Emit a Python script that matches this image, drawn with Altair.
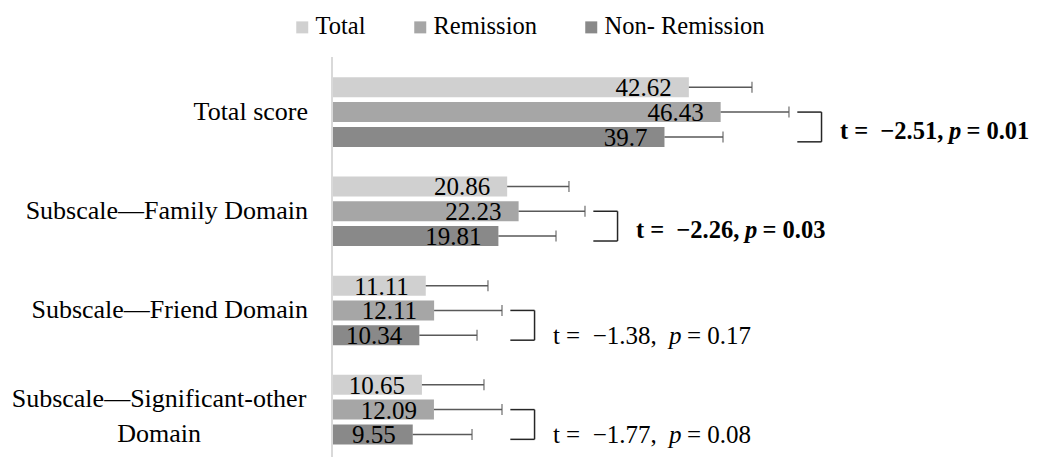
import altair as alt
import pandas as pd

# ---------------- data ----------------
groups = ["Total score", "Subscale—Family Domain", "Subscale—Friend Domain",
          "Subscale—Significant-other\nDomain"]
series = ["Total", "Remission", "Non- Remission"]
total_mean = [42.62, 20.86, 11.11, 10.65]
total_sd = [7.56, 7.40, 7.45, 7.43]
rem_mean = [46.43, 22.23, 12.11, 12.09]
rem_sd = [8.18, 7.95, 8.13, 8.15]
non_mean = [39.7, 19.81, 10.34, 9.55]
non_sd = [7.01, 6.90, 6.91, 7.10]
t_values = ["−2.51", "−2.26", "−1.38", "−1.77"]
p_values = ["0.01", "0.03", "0.17", "0.08"]
significant = [True, True, False, False]
colors = ["#d0d0d0", "#a6a6a6", "#898989"]

FONT = "Liberation Serif"

means = [total_mean, rem_mean, non_mean]
sds = [total_sd, rem_sd, non_sd]
bar_rows = []
for i, g in enumerate(groups):
    for j, s in enumerate(series):
        v = means[j][i]
        sd = sds[j][i]
        bar_rows.append({"group": g, "series": s, "row": 4 * i + j, "value": v,
                         "sd": sd, "err": v + sd, "label": str(v)})
bars_df = pd.DataFrame(bar_rows)

ann_rows = []
for i, g in enumerate(groups):
    bx = rem_mean[i] + rem_sd[i] + 1.0
    ann_rows.append({
        "group": g, "row_rem": 4 * i + 1, "row_non": 4 * i + 2,
        "row_bot": 4 * i + 2.2, "bx": bx, "bx2": bx + 2.9, "tx": bx + 2.9 + 2.2,
        "part1": "t =\u00a0\u00a0" + t_values[i] + ",", "part3": "= " + p_values[i],
        "bold": significant[i],
    })
ann_df = pd.DataFrame(ann_rows)

lab_df = pd.DataFrame({"group": groups, "row": [4 * i + 1 for i in range(len(groups))],
                       "multi": ["\n" in g for g in groups]})

xs = alt.Scale(domain=[0, 83], nice=False, zero=False)
ys = alt.Scale(domain=[-1.02, 14.71], reverse=True, nice=False, zero=False)

# axis line
axis_line = alt.Chart(lab_df).mark_rule(color="#d9d9d9", strokeWidth=2).encode(
    x=alt.value(-1), y=alt.value(0), y2=alt.value(400))

bars = alt.Chart(bars_df).mark_bar(orient="horizontal", size=20).encode(
    x=alt.X("value:Q", scale=xs, axis=None, stack=None),
    y=alt.Y("row:Q", scale=ys, axis=None),
    color=alt.Color("series:N", scale=alt.Scale(domain=series, range=colors),
                    legend=alt.Legend(
                        orient="none", legendX=-43, legendY=-42, direction="horizontal",
                        title=None, symbolType="square", symbolSize=144,
                        symbolStrokeWidth=0, labelFont=FONT, labelFontSize=24.5,
                        labelColor="#000000", columnPadding=42, labelOffset=1,
                        padding=0)),
)

err = alt.Chart(bars_df).mark_rule(color="#595959", strokeWidth=1.5).encode(
    x=alt.X("value:Q", scale=xs, axis=None), x2="err:Q",
    y=alt.Y("row:Q", scale=ys, axis=None))

caps = alt.Chart(bars_df).mark_tick(color="#595959", orient="vertical", size=11,
                                    thickness=1.5).encode(
    x=alt.X("err:Q", scale=xs, axis=None), y=alt.Y("row:Q", scale=ys, axis=None))

vals = alt.Chart(bars_df).mark_text(align="right", baseline="middle", dx=-17, dy=1,
                                    font=FONT, fontSize=25, color="#000000").encode(
    x=alt.X("value:Q", scale=xs, axis=None), y=alt.Y("row:Q", scale=ys, axis=None),
    text="label:N")

br_top = alt.Chart(ann_df).mark_rule(color="#262626", strokeWidth=1.5).encode(
    x=alt.X("bx:Q", scale=xs, axis=None), x2="bx2:Q",
    y=alt.Y("row_rem:Q", scale=ys, axis=None))
br_bot = alt.Chart(ann_df).mark_rule(color="#262626", strokeWidth=1.5).encode(
    x=alt.X("bx:Q", scale=xs, axis=None), x2="bx2:Q",
    y=alt.Y("row_bot:Q", scale=ys, axis=None))
br_v = alt.Chart(ann_df).mark_rule(color="#262626", strokeWidth=1.5).encode(
    x=alt.X("bx2:Q", scale=xs, axis=None),
    y=alt.Y("row_rem:Q", scale=ys, axis=None), y2="row_bot:Q")

def ann_layer(text_enc, weight, style, dx, dy, size, filt):
    return alt.Chart(ann_df).transform_filter(filt).mark_text(
        align="left", baseline="middle", dx=dx, dy=dy, font=FONT, fontSize=size,
        fontWeight=weight, fontStyle=style, color="#000000").encode(
        x=alt.X("tx:Q", scale=xs, axis=None),
        y=alt.Y("row_non:Q", scale=ys, axis=None), text=text_enc)

ann_bold = [
    ann_layer(alt.Text("part1:N"), "bold", "normal", 0, -5, 24.5, "datum.bold"),
    ann_layer(alt.value("p"), "bold", "italic", 109, -5, 24.5, "datum.bold"),
    ann_layer(alt.Text("part3:N"), "bold", "normal", 126.5, -5, 24.5, "datum.bold"),
]
ann_reg = [
    ann_layer(alt.Text("part1:N"), "normal", "normal", 0, 1, 25, "!datum.bold"),
    ann_layer(alt.value("p"), "normal", "italic", 116, 1, 25, "!datum.bold"),
    ann_layer(alt.Text("part3:N"), "normal", "normal", 134, 1, 25, "!datum.bold"),
]

labels_single = alt.Chart(lab_df).transform_filter("!datum.multi").mark_text(
    align="right", baseline="middle", font=FONT, fontSize=26, color="#000000").encode(
    x=alt.value(-25), y=alt.Y("row:Q", scale=ys, axis=None), text="group:N")
labels_multi = alt.Chart(lab_df).transform_filter("datum.multi").mark_text(
    align="center", baseline="middle", font=FONT, fontSize=26, color="#000000",
    lineBreak="\n", lineHeight=35, dy=-11).encode(
    x=alt.value(-174), y=alt.Y("row:Q", scale=ys, axis=None), text="group:N")

chart = alt.layer(
    bars, err, caps, vals, axis_line, br_top, br_bot, br_v,
    *ann_bold, *ann_reg, labels_single, labels_multi
).properties(
    width=693, height=400, autosize="none",
    padding={"left": 325, "top": 49, "right": 3, "bottom": 0},
    background="white",
).configure_view(stroke=None)

chart.save("out.html", embed_options={"renderer": "svg", "actions": False})
